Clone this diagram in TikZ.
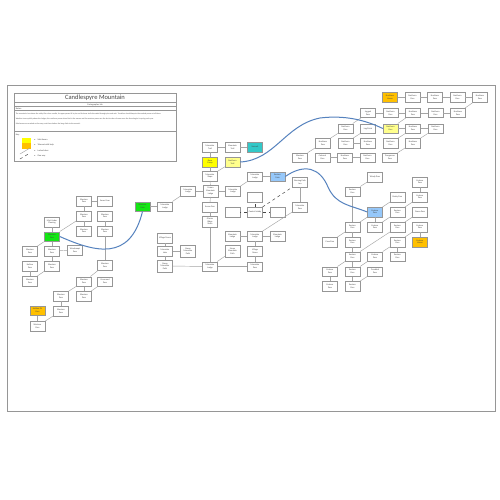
\documentclass[tikz,border=0pt]{standalone}
\usepackage{fontspec}
\setmainfont{Carlito}
\usepackage{tikz}
\usepackage{color}
\usetikzlibrary{positioning,arrows,calc}
\definecolor{boxgray}{RGB}{150,150,150}
\definecolor{linkgray}{RGB}{165,165,165}
\definecolor{txtgray}{RGB}{70,70,70}
\definecolor{havengreen}{RGB}{20,230,20}
\definecolor{havengold}{RGB}{255,192,0}
\definecolor{paleyellow}{RGB}{255,255,140}
\definecolor{brightyellow}{RGB}{255,255,0}
\definecolor{gateteal}{RGB}{50,200,200}
\definecolor{gateblue}{RGB}{150,200,250}
\definecolor{trailblue}{RGB}{85,130,190}
\newcommand{\roomfont}{\fontsize{2.2}{2.6}\selectfont}
\newcommand{\notefont}{\fontsize{1.9}{2.3}\selectfont}

\begin{document}
\begin{tikzpicture}[x=1pt,y=-1pt,node distance=22.5pt,semithick]
  \tikzstyle{room}=[rectangle, draw=boxgray, fill=white, line width=.5pt,
                    minimum width=15pt, minimum height=9.5pt, inner sep=.4pt,
                    align=center, font=\roomfont, text=txtgray]
  \tikzstyle{tall}=[minimum height=11.5pt]
  \tikzstyle{every edge}=[draw=linkgray, line width=.45pt]
  \tikzstyle{door}=[dashed, draw=txtgray, line width=.45pt]
  \tikzstyle{trail}=[draw=trailblue, line width=1pt]
  \tikzstyle{keytext}=[anchor=west, inner sep=0pt, font=\roomfont, text=txtgray]

  \fill[white] (0,0) rectangle (500,500);
  \useasboundingbox (0,0) rectangle (500,500);
  \draw[boxgray, line width=1pt] (7,86) rectangle (495,411);

  \draw[boxgray, line width=.5pt] (14,93) rectangle (176,161);
  \draw[boxgray, line width=.4pt] (14,102.5) -- (176,102.5)
                                  (14,106.5) -- (176,106.5)
                                  (14,110.5) -- (176,110.5)
                                  (14,131) -- (176,131);
  \node[text=txtgray, font=\fontsize{6.5}{7}\selectfont] (title) at (95,97.8) {Candlespyre Mountain};
  \node[text=txtgray, font=\roomfont, inner sep=0pt] (sub) at (95,104.5) {Cartographer Ink};
  \node[keytext] (notes) at (15.5,108.5) {Notes:};
  \node[keytext, font=\notefont] (n1) at (15.5,114.5) {The mountain rises above the valley like a lone candle, its upper passes lit by ice and its lower trails threaded through pine and rock. Travellers should keep to the marked passes at all times.};
  \node[keytext, font=\notefont] (n2) at (15.5,119.5) {Weather turns quickly above the lodges; the northern passes close first in the season and the western passes are the last to clear of snow once the thaw begins in spring each year.};
  \node[keytext, font=\notefont] (n3) at (15.5,124.5) {Safe havens are marked on the map; rest there before the long climb to the summit.};
  \node[keytext] (key) at (15.5,134.5) {Key:};
  \fill[brightyellow] (22,137.5) rectangle (31,143);
  \fill[havengold] (22,143) rectangle (31,148.5);
  \draw[linkgray, line width=.5pt] (20,154) -- (30,148);
  \draw[door] (20,159) -- (30,153);
  \node[keytext] (k1) at (34,140) {\textbullet\quad Safe Haven};
  \node[keytext] (k2) at (34,145.2) {\textbullet\quad Tolerant with help};
  \node[keytext] (k3) at (34,150.5) {\textbullet\quad Locked door};
  \node[keytext] (k4) at (34,155.7) {\textbullet\quad One way};

  \node[room] (w1) at (84,201) {Western\\Pass};
  \node[room] (w2) at (105,201) {Snow Cave};
  \node[room] (w3) at (84,216) {Western\\Pass};
  \node[room] (w4) at (105,216) {Western\\Pass};
  \node[room] (w5) at (84,231) {Western\\Pass};
  \node[room] (w6) at (105,231) {Western\\Pass};
  \node[room] (wm) at (52,222) {Mist Under\\Clearing};
  \node[room, fill=havengreen] (g1) at (52,236.5) {Western\\Pass};
  \node[room] (w7) at (30,251) {Western\\Pass};
  \node[room] (w8) at (52,251) {Western\\Pass};
  \node[room] (w9) at (75,250) {Windswept\\Pass};
  \node[room] (w10) at (30,266) {Hollow\\Pass};
  \node[room] (w11) at (52,266) {Western\\Pass};
  \node[room] (w12) at (30,281) {Western\\Pass};
  \node[room] (w13) at (105,265) {Western\\Pass};
  \node[room] (w14) at (84,281.5) {Western\\Pass};
  \node[room] (w15) at (105,281.5) {Crossroad\\Pass};
  \node[room] (w16) at (84,296) {Western\\Pass};
  \node[room] (w17) at (61,296) {Western\\Pass};
  \node[room] (w18) at (61,311) {Western\\Pass};
  \node[room, fill=havengold] (o1) at (37.5,310.5) {Hidden Pit\\Pass};
  \node[room] (w19) at (37.5,326) {Western\\Pass};

  \node[room, fill=havengreen] (g2) at (142.5,206.5) {Western\\Gate};
  \node[room] (m1) [right of=g2] {Mountain\\Lodge};
  \node[room] (m2) at (188,191) {Mountain\\Lodge};
  \node[room, tall] (m3) [right of=m2] {Frozen\\Mountain\\Lodge};
  \node[room] (m4) [right of=m3] {Mountain\\Lodge};
  \node[room] (m5) at (255,176.5) {Mountain\\Lodge};
  \node[room, fill=gateblue] (b1) [right of=m5] {Eastern\\Gate};
  \node[room] (t1) at (210,147) {Mountain\\Trail};
  \node[room] (t2) [right of=t1] {Mountain\\Trail};
  \node[room, fill=gateteal] (tq) [right of=t2] {Summit};
  \node[room, fill=brightyellow] (y1) at (210,162) {Base\\Camp};
  \node[room, fill=paleyellow] (y2) [right of=y1] {Northern\\Trail};
  \node[room] (s1) at (210,176) {Mountain\\Slope};
  \node[room] (a1) at (210,207) {Arrow Den};
  \node[room, tall] (a2) at (210,221.5) {Glacier\\Ridge\\Stairs};
  \node[room] (e1) at (255,197) {};
  \node[room] (e2) at (232.5,212) {};
  \node[room] (cl) at (255,212) {Central Lobby};
  \node[room] (e3) at (277.5,212) {};
  \node[room] (bp) at (300,182) {Burning Path\\Inn};
  \node[room] (mp) at (300,207) {Mountain\\Pass};
  \node[room] (l1) at (232.5,236) {Mountain\\Lodge};
  \node[room] (l2) [right of=l1] {Mountain\\Lodge};
  \node[room] (l3) [right of=l2] {Mountain\\Lodge};
  \node[room, tall] (l4) at (232.5,251) {Steep\\Mountain\\Path};
  \node[room] (l5) at (255,251) {Village\\Green};
  \node[room] (l6) at (210,266.5) {Mountain\\Lodge};
  \node[room] (l7) at (255,266.5) {Mountain\\Pass};
  \node[room] (v1) at (165,238) {Village Green};
  \node[room] (v2) at (165,251) {Mountain\\Lake};
  \node[room, tall] (v3) at (188,251) {Steep\\Mountain\\Path};
  \node[room, tall] (v4) at (165,266) {Steep\\Mountain\\Path};

  \node[room, fill=havengold] (r1a) at (390,97.5) {Northern\\Haven};
  \node[room] (r1b) [right of=r1a] {Northern\\Pass};
  \node[room] (r1c) [right of=r1b] {Northern\\Pass};
  \node[room] (r1d) [right of=r1c] {Northern\\Pass};
  \node[room] (r1e) [right of=r1d] {Northern\\Pass};
  \node[room] (r2a) at (368,113) {Jagged\\Pass};
  \node[room] (r2b) [right of=r2a] {Northern\\Pass};
  \node[room] (r2c) [right of=r2b] {Northern\\Pass};
  \node[room] (r2d) [right of=r2c] {Northern\\Pass};
  \node[room] (r2e) [right of=r2d] {Northern\\Pass};
  \node[room] (r3a) at (345.5,128.5) {Northern\\Pass};
  \node[room] (r3b) [right of=r3a] {Log Point};
  \node[room, fill=paleyellow] (r3c) [right of=r3b] {Northern\\Pass};
  \node[room] (r3d) [right of=r3c] {Northern\\Pass};
  \node[room] (r3e) [right of=r3d] {Northern\\Pass};
  \node[room] (r4a) at (323,143) {Northern\\Pass};
  \node[room] (r4b) [right of=r4a] {Northern\\Pass};
  \node[room] (r4c) [right of=r4b] {Northern\\Pass};
  \node[room] (r4d) [right of=r4c] {Northern\\Pass};
  \node[room] (r4e) [right of=r4d] {Northern\\Pass};
  \node[room] (r5a) at (300,157.5) {Western\\Pass};
  \node[room] (r5b) [right of=r5a] {Colossal\\Pass};
  \node[room] (r5c) [right of=r5b] {Northern\\Pass};
  \node[room] (r5d) [right of=r5c] {Northern\\Pass};
  \node[room] (r5e) [right of=r5d] {Dangerous\\Pass};

  \node[room] (p1) at (375,177) {Windy Pass};
  \node[room] (p2) at (352.5,191.5) {Eastern\\Pass};
  \node[room] (p3) at (397.5,197) {Rocky Pass};
  \node[room] (p4) at (420,182) {Eastern\\Pass};
  \node[room] (p5) at (420,197) {Eastern\\Pass};
  \node[room, fill=gateblue] (b2) at (375,212) {Eastern\\Pass};
  \node[room] (p6) at (397.5,212) {Eastern\\Pass};
  \node[room] (p7) at (420,212) {Green Pass};
  \node[room] (p8) at (352.5,227) {Eastern\\Pass};
  \node[room] (p9) at (375,227) {Eastern\\Pass};
  \node[room] (p10) at (397.5,227) {Eastern\\Pass};
  \node[room] (p11) at (420,227) {Eastern\\Pass};
  \node[room] (p12) at (330,242) {Cave Pass};
  \node[room] (p13) at (352.5,242) {Eastern\\Pass};
  \node[room] (p14) at (397.5,242) {Eastern\\Pass};
  \node[room, fill=havengold] (o2) at (420,242) {Eastern\\Haven};
  \node[room] (p15) at (352.5,256.5) {Eastern\\Pass};
  \node[room] (p16) at (375,256.5) {Eastern\\Pass};
  \node[room] (p17) at (397.5,256.5) {Eastern\\Pass};
  \node[room] (p18) at (330,271.5) {Eastern\\Pass};
  \node[room] (p19) at (352.5,271.5) {Eastern\\Pass};
  \node[room] (p20) at (375,271.5) {Troubled\\Pass};
  \node[room] (p21) at (330,286) {Eastern\\Pass};
  \node[room] (p22) at (352.5,286) {Eastern\\Pass};

  \path (w1) edge (w2) edge (w3)
        (w3) edge (w5) edge (g1)
        (w4) edge (w6)
        (w6) edge (w13)
        (wm) edge (g1)
        (g1) edge (w7) edge (w8)
        (w8) edge (w9) edge (w11)
        (w11) edge (w12)
        (w10) edge (w12)
        (w13) edge (w14)
        (w14) edge (w16) edge (w17)
        (w15) edge (w16)
        (w17) edge (w18)
        (w18) edge (w19)
        (o1) edge (w19);

  \path (g2) edge (m1)
        (m1) edge (m2)
        (m2) edge (m3)
        (m3) edge (m4) edge (s1) edge (a1)
        (m4) edge (m5)
        (m5) edge (b1)
        (t1) edge (t2) edge (y1)
        (t2) edge (tq)
        (y1) edge (s1)
        (y2) edge (s1)
        (a1) edge (a2)
        (a2) edge (l6)
        (v1) edge (v2)
        (v2) edge (v3) edge (v4)
        (v4) edge (l6)
        (l6) edge (l4) edge (l7)
        (l1) edge (l2)
        (l2) edge (l3) edge (l5) edge (mp)
        (l5) edge (l7)
        (bp) edge (mp);
  \path (cl) edge[door] (e1) edge[door] (e2) edge[door] (e3) edge[door] (bp);

  \path (r1a) edge (r1b)
        (r1b) edge (r1c)
        (r1c) edge (r1d)
        (r1d) edge (r1e)
        (r2a) edge (r2b)
        (r2b) edge (r2c)
        (r2c) edge (r2d)
        (r2d) edge (r2e)
        (r2e) edge (r1e)
        (r3a) edge (r2a)
        (r3c) edge (r3d) edge (r2c)
        (r3d) edge (r3e)
        (r3b) edge (r4b)
        (r4a) edge (r3a)
        (r4b) edge (r4c)
        (r4d) edge (r3d)
        (r4e) edge (r3e)
        (r5a) edge (r4a)
        (r5b) edge (r5c)
        (r5c) edge (r5d)
        (r5e) edge (r4e);

  \path (p1) edge (p2)
        (p2) edge (p8)
        (b2) edge (p8) edge (p9)
        (p3) edge (b2)
        (p4) edge (p5)
        (p5) edge (p6)
        (p6) edge (p9)
        (p7) edge (p10)
        (p10) edge (p15)
        (p11) edge (o2) edge (p14)
        (p14) edge (p17) edge (p16)
        (p8) edge (p12) edge (p13)
        (p13) edge (p15)
        (p15) edge (p18) edge (p19)
        (p16) edge (p19)
        (p19) edge (p22)
        (p18) edge (p21)
        (p20) edge (p22);

  \draw[trail] (g1.east) .. controls (95,252) and (130,262) .. (g2.south);
  \draw[trail] (y2.east) .. controls (275,160) and (285,125) .. (320,118)
               .. controls (345,115) and (365,120) .. (r3c.west);
  \draw[trail] (b1.east) .. controls (305,163) and (320,168) .. (328,187)
               .. controls (336,205) and (350,205) .. (b2.west);
\end{tikzpicture}
\end{document}
